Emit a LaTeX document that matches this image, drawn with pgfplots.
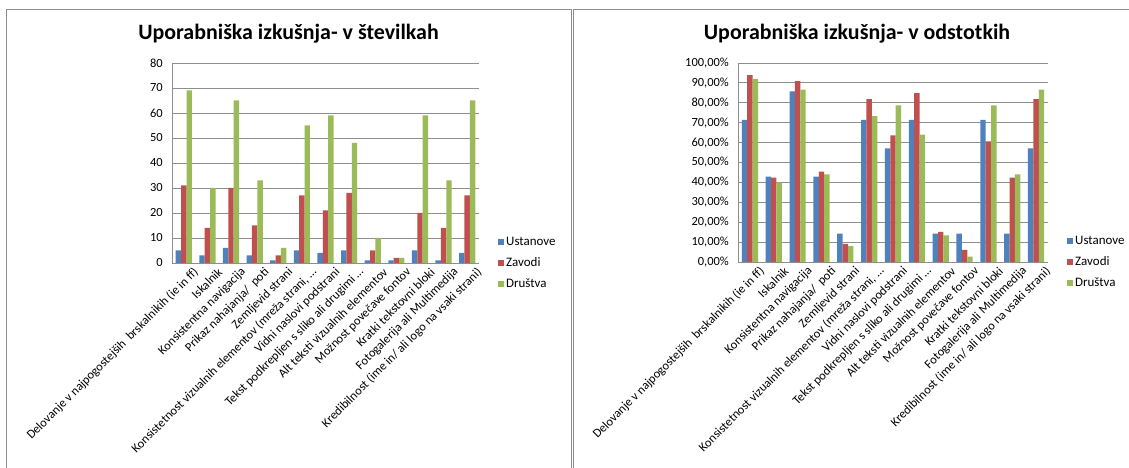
\documentclass[border=0pt]{standalone}
\usepackage{pgfplots}
\pgfplotsset{compat=1.18}
\usepackage{pgfplotstable}
\usepackage{fontspec}
\setmainfont{Carlito}

\definecolor{ustblue}{HTML}{4F81BD}
\definecolor{zavred}{HTML}{C0504D}
\definecolor{drugreen}{HTML}{9BBB59}
\definecolor{gridgray}{HTML}{8E8E8E}
\definecolor{framegray}{HTML}{8C8C8C}

% Counts per criterion: Ustanove (u), Zavodi (z), Drustva (d)
\pgfplotstableread{
x u z d
0 5 31 69
1 3 14 30
2 6 30 65
3 3 15 33
4 1 3 6
5 5 27 55
6 4 21 59
7 5 28 48
8 1 5 10
9 1 2 2
10 5 20 59
11 1 14 33
12 4 27 65
}\counts

% Shares in percent (7 Ustanove, 33 Zavodi, 75 Drustva)
\pgfplotstableread{
x u z d
0 71.43 93.94 92.00
1 42.86 42.42 40.00
2 85.71 90.91 86.67
3 42.86 45.45 44.00
4 14.29 9.09 8.00
5 71.43 81.82 73.33
6 57.14 63.64 78.67
7 71.43 84.85 64.00
8 14.29 15.15 13.33
9 14.29 6.06 2.67
10 71.43 60.61 78.67
11 14.29 42.42 44.00
12 57.14 81.82 86.67
}\shares

\pgfplotsset{
  excelbars/.style={
    scale only axis,
    ybar=0pt, bar width=5.4bp,
    xmin=-0.5, xmax=12.5,
    xtick={0,...,12},
    xticklabels={
      {Delovanje v najpogostejših~ brskalnikih (ie in ff)},
      {Iskalnik},
      {Konsistentna navigacija},
      {Prikaz nahajanja/~ poti},
      {Zemljevid strani},
      {Konsistetnost vizualnih elementov (mreža strani, \dots},
      {Vidni naslovi podstrani},
      {Tekst podkrepljen s sliko ali drugimi \dots},
      {Alt teksti vizualnih elementov},
      {Možnost povečave fontov},
      {Kratki tekstovni bloki},
      {Fotogalerija ali Multimedija},
      {Kredibilnost (ime in/ ali logo na vsaki strani)}},
    axis x line*=bottom, axis y line*=left,
    axis line style={gridgray, line width=0.8bp, -},
    ymajorgrids, grid style={gridgray, line width=0.8bp},
    major tick length=0pt,
    /pgf/number format/assume math mode=true,
    tick label style={font=\fontsize{12.5}{14}\selectfont},
    yticklabel style={inner sep=0pt, xshift=-9bp},
    xticklabel style={rotate=45, anchor=east, inner sep=0pt, yshift=-14bp, xshift=4bp},
    legend style={draw=none, fill=none, at={(1,0)}, anchor=west, xshift=16bp,
      row sep=7bp, font=\fontsize{13}{14}\selectfont,
      /tikz/every even column/.append style={column sep=3bp}},
    legend cell align=left,
    legend image code/.code={\fill[##1] (0bp,-3bp) rectangle (6bp,3bp);},
  },
}

\begin{document}
\begin{tikzpicture}[x=1bp,y=1bp]
\useasboundingbox (0,0) rectangle (1129,468);

% panel frames
\draw[framegray, line width=1bp] (6,-10) -- (6,458) -- (571,458) -- (571,-10);
\draw[framegray, line width=1bp] (573,-10) -- (573,458) -- (1145,458);

% titles
\node[anchor=base, font=\bfseries\fontsize{22}{24}\selectfont] at (288.5,428) {Uporabniška izkušnja- v številkah};
\node[anchor=base, font=\bfseries\fontsize{22}{24}\selectfont] at (857,428) {Uporabniška izkušnja- v odstotkih};

\begin{axis}[excelbars,
  at={(172bp,205bp)}, anchor=south west,
  width=307bp, height=200bp,
  ymin=0, ymax=80, ytick={0,10,...,80}]
  \addplot[fill=ustblue, draw=none] table[x=x, y=u] {\counts};
  \addplot[fill=zavred, draw=none] table[x=x, y=z] {\counts};
  \addplot[fill=drugreen, draw=none] table[x=x, y=d] {\counts};
  \legend{Ustanove, Zavodi, Društva}
\end{axis}

\begin{axis}[excelbars,
  at={(738bp,206bp)}, anchor=south west,
  width=310bp, height=199bp,
  ymin=0, ymax=100, ytick={0,10,...,100},
  yticklabel={\pgfmathprintnumber[fixed, fixed zerofill, precision=2, use comma]{\tick}\%}]
  \addplot[fill=ustblue, draw=none] table[x=x, y=u] {\shares};
  \addplot[fill=zavred, draw=none] table[x=x, y=z] {\shares};
  \addplot[fill=drugreen, draw=none] table[x=x, y=d] {\shares};
  \legend{Ustanove, Zavodi, Društva}
\end{axis}
\end{tikzpicture}
\end{document}
